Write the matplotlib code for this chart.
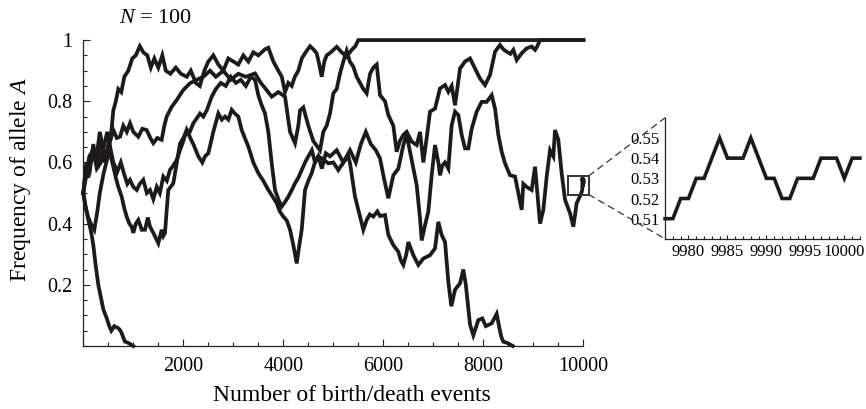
import matplotlib
matplotlib.use("Agg")
import matplotlib.pyplot as plt
from matplotlib.patches import Rectangle, ConnectionPatch
from matplotlib.ticker import MultipleLocator, FixedLocator

plt.rcParams['font.family'] = ['Liberation Serif', 'DejaVu Serif']
plt.rcParams['mathtext.fontset'] = 'custom'
plt.rcParams['mathtext.rm'] = 'Liberation Serif'
plt.rcParams['mathtext.it'] = 'Liberation Serif:italic'

# ---------------- data ----------------
line_a_x = [0, 40, 90, 160, 200, 250, 300, 350, 400, 470, 530, 560, 620, 680, 720, 760, 830, 900, 1000]
line_a_y = [.50, .46, .42, .37, .33, .26, .20, .16, .12, .09, .06, .05, .065, .06, .055, .045, .015, .01, 0]

line_b_x = [0, 60, 120, 200, 280, 350, 420, 500, 560, 600, 650, 700, 760, 820, 900, 980, 1050, 1130,
            1200, 1280, 1350, 1420, 1500, 1580, 1650, 1740, 1850, 1950, 2070, 2150, 2250, 2330, 2420,
            2500, 2600, 2700, 2800, 2900, 3000, 3100, 3200, 3300, 3400, 3500, 3634, 3700, 3800, 3900,
            3970, 4034, 4100, 4168, 4230, 4300, 4370, 4434, 4534, 4600, 4667, 4720, 4767, 4820, 4867,
            4950, 5067, 5167, 5267, 5367, 5440, 5500, 10002]
line_b_y = [.50, .60, .56, .66, .58, .68, .60, .66, .70, .77, .80, .84, .83, .88, .90, .94, .95, .98,
            .96, .95, .91, .94, .91, .95, .90, .89, .91, .89, .88, .90, .86, .85, .90,
            .93, .95, .92, .90, .94, .93, .92, .95, .93, .96, .95, .97, .975, .93, .90,
            .88, .83, .86, .85, .88, .90, .94, .957, .98, .97, .957, .92, .88, .93, .95,
            .96, .978, .96, .946, .968, .98, 1.0, 1.0]

line_g_x = [0, 50, 100, 180, 250, 330, 400, 450, 520, 600, 670, 734, 800, 870, 934, 1000, 1100, 1180,
            1268, 1340, 1400, 1480, 1567, 1620, 1668, 1768, 1868, 1930, 2000, 2134, 2268, 2400, 2534,
            2650, 2800, 2950, 3100, 3250, 3434, 3550, 3650, 3768, 3900, 4034, 4134, 4234, 4300, 4334,
            4400, 4500, 4600, 4734, 4800, 4867, 4934, 5000, 5067, 5134, 5200, 5267, 5330, 5400, 5467,
            5534, 5600, 5667, 5734, 5800, 5867, 5934, 6034, 6100, 6200, 6267, 6330, 6400, 6467, 6567,
            6667, 6734, 6800, 6867, 6934, 7034, 7134, 7234, 7300, 7367, 7434, 7534, 7634, 7734, 7834,
            7934, 8034, 8134, 8234, 8334, 8400, 8467, 8540, 8600, 8667, 8767, 8867, 8967, 9034, 9080,
            9134, 10002]
line_g_y = [.50, .58, .55, .64, .60, .70, .64, .62, .66, .706, .68, .684, .72, .70, .728, .70, .684, .71,
            .706, .68, .663, .68, .674, .72, .75, .782, .804, .82, .837, .859, .87, .88, .90,
            .88, .90, .87, .89, .88, .891, .86, .84, .815, .83, .815, .70, .663, .72, .77,
            .78, .72, .67, .64, .70, .72, .76, .826, .84, .891, .93, .965, .93, .913, .88,
            .86, .84, .826, .89, .91, .92, .82, .80, .755, .72, .635, .67, .69, .70, .668,
            .657, .70, .60, .68, .766, .776, .842, .853, .831, .85, .787, .907, .93, .94, .907,
            .874, .853, .886, .962, .984, .97, .962, .955, .968, .935, .957, .973, .979, .968, .98,
            1.0, 1.0]

line_d_x = [0, 60, 120, 200, 270, 350, 420, 480, 550, 600, 680, 750, 820, 880, 934, 1000, 1068, 1130,
            1200, 1270, 1334, 1400, 1468, 1530, 1600, 1670, 1734, 1800, 1868, 1934, 2000, 2068, 2140,
            2200, 2300, 2380, 2434, 2500, 2600, 2700, 2770, 2834, 2900, 2968, 3030, 3100, 3168, 3230,
            3300, 3400, 3500, 3600, 3700, 3780, 3868, 3930, 4000, 4070, 4134, 4200, 4268, 4320, 4368,
            4434, 4500, 4568, 4630, 4700, 4800, 4900, 5000, 5100, 5200, 5300, 5334, 5434, 5534, 5600,
            5667, 5730, 5800, 5880, 5934, 6034, 6100, 6200, 6300, 6350, 6400, 6460, 6500, 6600, 6700,
            6800, 6934, 7034, 7100, 7167, 7234, 7300, 7360, 7434, 7534, 7600, 7650, 7734, 7800, 7900,
            7980, 8050, 8167, 8267, 8320, 8360, 8400, 8480, 8590]
line_d_y = [.50, .56, .62, .64, .58, .60, .66, .70, .64, .60, .57, .60, .56, .53, .543, .52, .51, .53,
            .543, .50, .51, .48, .52, .50, .554, .54, .576, .59, .608, .64, .67, .706, .68,
            .66, .62, .60, .62, .63, .70, .76, .74, .75, .74, .772, .76, .75, .706, .68,
            .652, .60, .565, .54, .51, .49, .467, .44, .423, .41, .38, .33, .27, .33, .38,
            .51, .54, .565, .60, .62, .61, .597, .60, .575, .60, .62, .597, .488, .423, .38,
            .412, .43, .423, .44, .425, .428, .363, .33, .308, .28, .265, .30, .34, .297, .265,
            .286, .297, .319, .406, .363, .34, .21, .13, .184, .205, .25, .20, .07, .035, .085,
            .09, .065, .074, .105, .06, .03, .014, .01, 0]

line_e_x = [0, 50, 100, 150, 220, 280, 330, 400, 460, 520, 580, 650, 700, 767, 820, 867, 920, 967,
            1000, 1050, 1100, 1170, 1234, 1290, 1334, 1400, 1434, 1500, 1567, 1600, 1634, 1668, 1700,
            1800, 1868, 1934, 2000, 2068, 2130, 2200, 2334, 2400, 2468, 2568, 2650, 2750, 2850, 2950,
            3050, 3150, 3250, 3350, 3434, 3500, 3560, 3634, 3700, 3768, 3834, 3900, 3968, 4030, 4100,
            4170, 4234, 4300, 4368, 4434, 4500, 4570, 4634, 4700, 4770, 4850, 4934, 5067, 5200, 5334,
            5450, 5550, 5650, 5750, 5850, 5934, 6000, 6100, 6200, 6300, 6400, 6467, 6534, 6600, 6667,
            6734, 6767, 6800, 6834, 6900, 6967, 7034, 7100, 7134, 7180, 7234, 7300, 7367, 7434, 7500,
            7567, 7634, 7700, 7767, 7867, 7967, 8067, 8167, 8234, 8300, 8367, 8434, 8534, 8634, 8700,
            8767, 8800, 8867, 8967, 9034, 9080, 9134, 9200, 9267, 9334, 9400, 9434, 9500, 9567, 9634,
            9734, 9800, 9867, 9934, 9960]
line_e_y = [.50, .45, .42, .40, .38, .44, .50, .56, .60, .64, .60, .55, .52, .488, .45, .423, .40, .39,
            .37, .40, .412, .38, .38, .42, .39, .37, .358, .336, .38, .36, .37, .445, .51,
            .532, .597, .662, .68, .706, .70, .728, .76, .75, .77, .815, .84, .86, .85, .88,
            .86, .87, .85, .88, .87, .82, .79, .76, .70, .597, .51, .48, .456, .47, .488,
            .51, .532, .55, .575, .60, .62, .64, .60, .62, .58, .63, .62, .64, .60, .64,
            .60, .66, .70, .66, .64, .613, .558, .483, .558, .58, .657, .69, .635, .58, .526,
            .417, .345, .37, .395, .44, .558, .657, .60, .558, .59, .60, .58, .722, .766, .755,
            .69, .646, .646, .71, .766, .798, .798, .82, .776, .69, .635, .597, .558, .554, .50,
            .445, .53, .52, .51, .586, .50, .40, .445, .554, .64, .62, .706, .674, .564, .478,
            .434, .39, .467, .49, .50]

# last events (inset)
inset_x = [9977, 9978, 9979, 9980, 9981, 9982, 9983, 9984, 9985, 9986, 9987, 9988, 9989,
           9990, 9991, 9992, 9993, 9994, 9995, 9996, 9997, 9998, 9999, 10000, 10001, 10002]
inset_y = [.51, .51, .52, .52, .53, .53, .54, .55, .54, .54, .54, .55, .54,
           .53, .53, .52, .52, .53, .53, .53, .54, .54, .54, .53, .54, .54]

main_xticks = [2000, 4000, 6000, 8000, 10000]
main_yticks = [0.2, 0.4, 0.6, 0.8, 1.0]
main_yticklabels = ['0.2', '0.4', '0.6', '0.8', '1']
inset_xticks = [9980, 9985, 9990, 9995, 10000]
inset_yticks = [0.51, 0.52, 0.53, 0.54, 0.55]
zoom_box_x = (9700, 10110)
zoom_box_y = (0.495, 0.556)

# ---------------- figure ----------------
LC = '#1c1a1a'
fig = plt.figure(figsize=(8.66, 4.09), dpi=100)
ax = fig.add_axes([0.0962, 0.154, 0.5774, 0.748])

lines = [(line_a_x, line_a_y), (line_b_x, line_b_y), (line_g_x, line_g_y),
         (line_d_x, line_d_y), (line_e_x + inset_x, line_e_y + inset_y)]
for xs, ys in lines:
    ax.plot(xs, ys, color=LC, lw=2.7, solid_joinstyle='miter', clip_on=False, zorder=3)

ax.set_xlim(0, 10000)
ax.set_ylim(0, 1)
for s in ['top', 'right']:
    ax.spines[s].set_visible(False)
for s in ['left', 'bottom']:
    ax.spines[s].set_linewidth(0.9)
    ax.spines[s].set_color('#222222')
ax.xaxis.set_major_locator(FixedLocator(main_xticks))
ax.xaxis.set_minor_locator(MultipleLocator(500))
ax.yaxis.set_major_locator(FixedLocator(main_yticks))
ax.set_yticklabels(main_yticklabels)
ax.yaxis.set_minor_locator(MultipleLocator(0.05))
ax.tick_params(which='both', direction='in', color='#222222', width=0.8, labelsize=14.5)
ax.tick_params(which='major', length=5)
ax.tick_params(which='minor', length=3)
ax.tick_params(axis='x', pad=8)
ax.tick_params(axis='y', pad=8)

rect = Rectangle((zoom_box_x[0], zoom_box_y[0]), zoom_box_x[1] - zoom_box_x[0],
                 zoom_box_y[1] - zoom_box_y[0], fill=False, ec='#333333', lw=1.4,
                 clip_on=False, zorder=4)
ax.add_patch(rect)

fig.text(0.18, 0.955, r'$N$ = 100', ha='center', va='center', fontsize=16)
fig.text(0.024, 0.56, r'Frequency of allele $A$', rotation=90, ha='center', va='center', fontsize=17)
fig.text(0.406, 0.032, 'Number of birth/death events', ha='center', va='center', fontsize=17)

# ---------------- inset ----------------
axi = fig.add_axes([0.768, 0.416, 0.225, 0.296])
axi.plot(inset_x, inset_y, color=LC, lw=2.6, solid_joinstyle='miter', clip_on=False)
axi.set_xlim(9977, 10002)
axi.set_ylim(0.50, 0.56)
for s in ['top', 'right']:
    axi.spines[s].set_visible(False)
for s in ['left', 'bottom']:
    axi.spines[s].set_linewidth(0.9)
    axi.spines[s].set_color('#222222')
axi.xaxis.set_major_locator(FixedLocator(inset_xticks))
axi.xaxis.set_minor_locator(MultipleLocator(1))
axi.yaxis.set_major_locator(FixedLocator(inset_yticks))
axi.set_yticklabels(['%.2f' % v for v in inset_yticks])
axi.set_xticklabels([str(v) for v in inset_xticks])
axi.tick_params(which='both', direction='in', color='#222222', width=0.8, labelsize=12)
axi.tick_params(which='major', length=3)
axi.tick_params(which='minor', length=2.5)
axi.tick_params(axis='y', length=0, pad=4)
axi.tick_params(axis='x', pad=4)

for (xa, ya), (xb, yb) in [((zoom_box_x[1], zoom_box_y[1]), (0, 1)),
                           ((zoom_box_x[1], zoom_box_y[0]), (0, 0))]:
    con = ConnectionPatch(xyA=(xa, ya), coordsA=ax.transData,
                          xyB=(xb, yb), coordsB=axi.transAxes,
                          ls=(0, (5, 4)), lw=0.9, color='#333333')
    fig.add_artist(con)

fig.savefig('out.png', dpi=100)
